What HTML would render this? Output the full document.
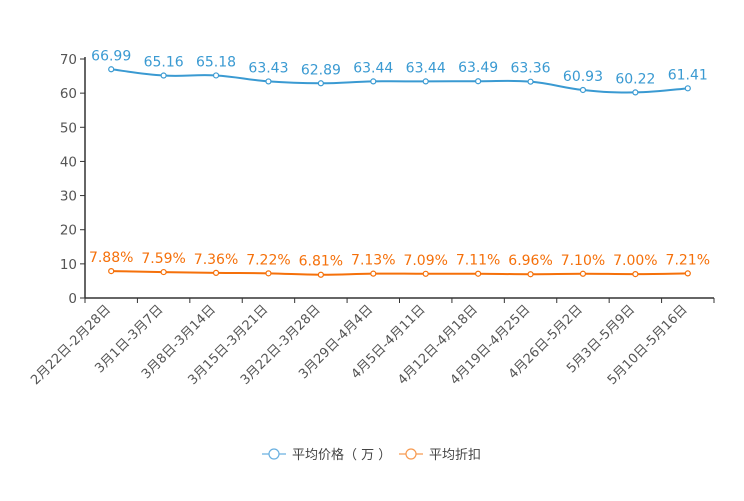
<!DOCTYPE html>
<html><head><meta charset="utf-8"><style>
body{margin:0;background:#fff}
svg{font-family:"DejaVu Sans","Noto Sans CJK SC",sans-serif}
</style></head><body>
<svg id="c" width="744" height="496"></svg>
<script>
const categories=["2月22日-2月28日","3月1日-3月7日","3月8日-3月14日","3月15日-3月21日","3月22日-3月28日","3月29日-4月4日","4月5日-4月11日","4月12日-4月18日","4月19日-4月25日","4月26日-5月2日","5月3日-5月9日","5月10日-5月16日"];
const priceValues=[66.99,65.16,65.18,63.43,62.89,63.44,63.44,63.49,63.36,60.93,60.22,61.41];
const discountValues=[7.88,7.59,7.36,7.22,6.81,7.13,7.09,7.11,6.96,7.10,7.00,7.21];
const yTicks=[0,10,20,30,40,50,60,70];
const NS="http://www.w3.org/2000/svg";
const svg=document.getElementById('c');
const x0=85,x1=714,y0=298,y1=59,yMax=70;
const bw=(x1-x0)/categories.length;
const xs=i=>x0+bw*(i+0.5);
const ys=v=>y0-(v/yMax)*(y0-y1);
function mk(t,a,p){const e=document.createElementNS(NS,t);for(const k in a)e.setAttribute(k,a[k]);(p||svg).appendChild(e);return e;}
const ya=mk('line',{x1:x0,y1:y1-2,x2:x0,y2:y0,stroke:'#333','stroke-width':1.5});


yTicks.forEach(v=>{
  mk('line',{x1:x0-5,y1:ys(v),x2:x0,y2:ys(v),stroke:'#333'});
  const t=mk('text',{x:x0-8,y:ys(v)+5,'text-anchor':'end','font-size':13.5,fill:'#555'});
  t.textContent=v;
  
  
});
const xa=mk('line',{x1:x0,y1:y0,x2:x1,y2:y0,stroke:'#333','stroke-width':1.5});


for(let i=0;i<=categories.length;i++)mk('line',{x1:x0+bw*i,y1:y0,x2:x0+bw*i,y2:y0+5,stroke:'#333'});
categories.forEach((c,i)=>{
  const x=xs(i),y=y0+12;
  const t=mk('text',{x:x,y:y,'text-anchor':'end','font-size':13,fill:'#555',transform:`rotate(-45 ${x} ${y})`});
  t.textContent=c;
  
  
});
function smooth(pts){
  let d=`M${pts[0][0]},${pts[0][1]}`;
  for(let i=0;i<pts.length-1;i++){
    const p0=pts[i-1]||pts[i],p1=pts[i],p2=pts[i+1],p3=pts[i+2]||p2,k=0.2;
    d+=` C${p1[0]+(p2[0]-p0[0])*k},${p1[1]+(p2[1]-p0[1])*k} ${p2[0]-(p3[0]-p1[0])*k},${p2[1]-(p3[1]-p1[1])*k} ${p2[0]},${p2[1]}`;
  }
  return d;
}
function series(vals,color,name,fmt){
  const g=mk('g',{});
  
  
  const pts=vals.map((v,i)=>[xs(i),ys(v)]);
  mk('path',{d:smooth(pts),fill:'none',stroke:color,'stroke-width':2},g);
  vals.forEach((v,i)=>{
    const c=mk('circle',{cx:pts[i][0],cy:pts[i][1],r:2.5,fill:'#fff',stroke:color,'stroke-width':1.2},g);
    
    
    const t=mk('text',{x:pts[i][0],y:pts[i][1]-9,'text-anchor':'middle','font-size':14,fill:color},g);
    t.textContent=fmt(v);
    
    
  });
}
series(priceValues,'#3a9ad2','price-series',v=>v.toFixed(2));
series(discountValues,'#f5700a','discount-series',v=>v.toFixed(2)+'%');
function legend(x,color,label,name){
  const g=mk('g',{});
  
  
  mk('line',{x1:x,y1:454,x2:x+24,y2:454,stroke:color,'stroke-width':1.2},g);
  mk('circle',{cx:x+12,cy:454,r:5,fill:'#fff',stroke:color,'stroke-width':1.2},g);
  const t=mk('text',{x:x+30,y:459,'font-size':13,fill:'#444'},g);
  t.textContent=label;
}
legend(262,'#6ab0e0','平均价格（ 万 ）','legend-price');
legend(399,'#f79a50','平均折扣','legend-discount');
</script>
</body></html>
